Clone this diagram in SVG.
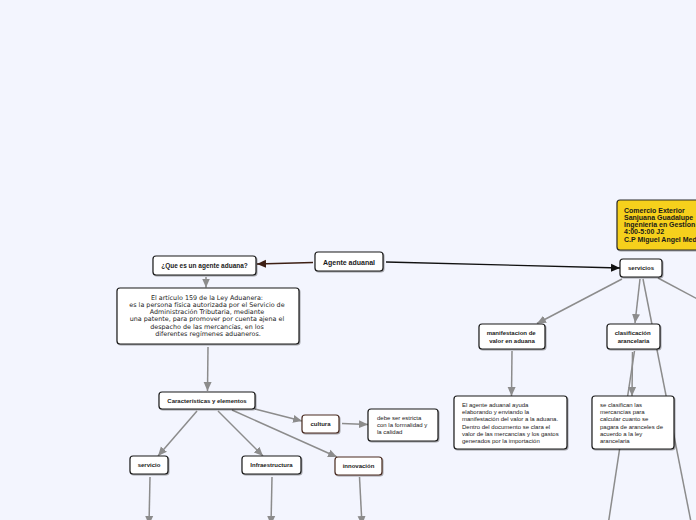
<svg xmlns="http://www.w3.org/2000/svg" width="696" height="520" viewBox="0 0 696 520">
<defs>
<filter id="sh" x="-20%" y="-20%" width="140%" height="150%">
<feDropShadow dx="0.8" dy="1" stdDeviation="0.6" flood-color="#000" flood-opacity="0.35"/>
</filter>
<marker id="ag" markerUnits="userSpaceOnUse" markerWidth="10" markerHeight="10" viewBox="0 0 10 10" refX="9" refY="5" orient="auto">
<path d="M0,1 L9,5 L0,9 Z" fill="#8c8c8c"/>
</marker>
<marker id="ab" markerUnits="userSpaceOnUse" markerWidth="10" markerHeight="10" viewBox="0 0 10 10" refX="9" refY="5" orient="auto">
<path d="M0,1 L9,5 L0,9 Z" fill="#111"/>
</marker>
<marker id="ar" markerUnits="userSpaceOnUse" markerWidth="10" markerHeight="10" viewBox="0 0 10 10" refX="9" refY="5" orient="auto">
<path d="M0,1 L9,5 L0,9 Z" fill="#3d1f14"/>
</marker>
</defs>
<style>
.n{fill:#fff;stroke:#1a1a1a;stroke-width:1.2;filter:url(#sh)}
.nb{fill:#fff;stroke:#4a2c20;stroke-width:1.2;filter:url(#sh)}
.y{fill:#f6d01a;stroke:#2a2a2a;stroke-width:1.2;filter:url(#sh)}
.t{font-family:"Liberation Sans",Arial,sans-serif;font-weight:bold;fill:#1a1a1a}
.b{font-family:"Liberation Sans",Arial,sans-serif;font-size:6px;fill:#222}
.d{font-family:"DejaVu Sans",Verdana,sans-serif;font-size:6.4px;fill:#222}
.g{stroke:#8c8c8c;stroke-width:1.5;fill:none}
</style>
<rect width="696" height="520" fill="#f3f5fe"/>
<g id="connectors">
<line x1="313" y1="262.5" x2="257" y2="264" stroke="#3d1f14" stroke-width="1.6" marker-end="url(#ar)"/>
<line x1="386" y1="262" x2="620" y2="268" stroke="#111" stroke-width="1.3" marker-end="url(#ab)"/>
<line class="g" x1="206" y1="277" x2="206" y2="287.5" marker-end="url(#ag)"/>
<line class="g" x1="208" y1="347" x2="207.5" y2="391" marker-end="url(#ag)"/>
<line class="g" x1="197" y1="411" x2="158" y2="456" marker-end="url(#ag)"/>
<line class="g" x1="218" y1="411" x2="263" y2="456" marker-end="url(#ag)"/>
<line class="g" x1="232" y1="410" x2="337" y2="457" marker-end="url(#ag)"/>
<line class="g" x1="255" y1="409" x2="302" y2="421" marker-end="url(#ag)"/>
<line class="g" x1="342" y1="423.5" x2="368" y2="424.5" marker-end="url(#ag)"/>
<line class="g" x1="150" y1="477" x2="149" y2="525" marker-end="url(#ag)"/>
<line class="g" x1="272" y1="477" x2="271" y2="525" marker-end="url(#ag)"/>
<line class="g" x1="359.5" y1="477" x2="362" y2="525" marker-end="url(#ag)"/>
<line class="g" x1="622" y1="279" x2="537" y2="323.5" marker-end="url(#ag)"/>
<line class="g" x1="640" y1="279" x2="635" y2="323" marker-end="url(#ag)"/>
<line class="g" x1="643" y1="279" x2="693" y2="532"/>
<line class="g" x1="658" y1="278" x2="720" y2="311"/>
<line class="g" x1="512" y1="351" x2="511.5" y2="396" marker-end="url(#ag)"/>
<line class="g" x1="632.5" y1="352" x2="632" y2="396" marker-end="url(#ag)"/>
<line class="g" x1="634.5" y1="351" x2="607" y2="532"/>
</g>
<g id="node-agente">
<rect class="n" x="315" y="252" width="68" height="19" rx="3"/>
<text class="t" x="349" y="264.5" font-size="7" text-anchor="middle">Agente aduanal</text>
</g>
<g id="node-que">
<rect class="n" x="153" y="256" width="103" height="19" rx="3"/>
<text class="t" x="204.5" y="268" font-size="6.5" text-anchor="middle">¿Que es un agente aduana?</text>
</g>
<g id="node-def">
<rect class="n" x="117" y="288" width="182" height="56" rx="3"/>
<text class="d" text-anchor="middle">
<tspan x="208" y="299.5">El artículo 159 de la Ley Aduanera:</tspan>
<tspan x="208" y="306.8">es la persona física autorizada por el Servicio de</tspan>
<tspan x="208" y="314.1">Administración Tributaria, mediante</tspan>
<tspan x="208" y="321.4">una patente, para promover por cuenta ajena el</tspan>
<tspan x="208" y="328.7">despacho de las mercancías, en los</tspan>
<tspan x="208" y="336">diferentes regímenes aduaneros.</tspan>
</text>
</g>
<g id="node-caracteristicas">
<rect class="n" x="159" y="392" width="96" height="17" rx="3"/>
<text class="t" x="207" y="402.5" font-size="6" text-anchor="middle">Características y elementos</text>
</g>
<g id="node-cultura">
<rect class="nb" x="302" y="415" width="37" height="18" rx="3"/>
<text class="t" x="320.5" y="426" font-size="6" text-anchor="middle">cultura</text>
</g>
<g id="node-debe">
<rect class="n" x="368" y="409" width="70" height="32" rx="3"/>
<text class="b">
<tspan x="377" y="420">debe ser estricta</tspan>
<tspan x="377" y="427">con la formalidad y</tspan>
<tspan x="377" y="434">la calidad</tspan>
</text>
</g>
<g id="node-servicio">
<rect class="n" x="130" y="456" width="38" height="18" rx="3"/>
<text class="t" x="149" y="467" font-size="6" text-anchor="middle">servicio</text>
</g>
<g id="node-infra">
<rect class="n" x="242" y="456" width="59" height="18" rx="3"/>
<text class="t" x="271.5" y="467" font-size="6" text-anchor="middle">Infraestructura</text>
</g>
<g id="node-innovacion">
<rect class="nb" x="335" y="457" width="47" height="18" rx="3"/>
<text class="t" x="358.5" y="468" font-size="6" text-anchor="middle">innovación</text>
</g>
<g id="node-info">
<rect class="y" x="617" y="200" width="120" height="50" rx="3"/>
<text class="t" font-size="7">
<tspan x="624" y="212.5">Comercio Exterior</tspan>
<tspan x="624" y="219.8">Sanjuana Guadalupe</tspan>
<tspan x="624" y="227">Ingenieria en Gestion</tspan>
<tspan x="624" y="234.3">4:00-5:00 J2</tspan>
<tspan x="624" y="241.6">C.P Miguel Angel Medina</tspan>
</text>
</g>
<g id="node-servicios">
<rect class="n" x="620" y="259" width="42" height="18" rx="3"/>
<text class="t" x="641" y="270" font-size="6" text-anchor="middle">servicios</text>
</g>
<g id="node-manifestacion">
<rect class="n" x="479" y="324" width="66" height="25" rx="3"/>
<text class="t" font-size="6" text-anchor="middle">
<tspan x="512" y="335">manifestacion de</tspan>
<tspan x="512" y="343">valor en aduana</tspan>
</text>
</g>
<g id="node-clasificacion">
<rect class="n" x="607" y="324" width="53" height="25" rx="3"/>
<text class="t" font-size="6" text-anchor="middle">
<tspan x="633.5" y="335">clasificación</tspan>
<tspan x="633.5" y="343">arancelaria</tspan>
</text>
</g>
<g id="node-elagente">
<rect class="n" x="454" y="396" width="113" height="53" rx="3"/>
<text class="b">
<tspan x="462" y="407">El agente aduanal ayuda</tspan>
<tspan x="462" y="414.2">elaborando y enviando la</tspan>
<tspan x="462" y="421.4">manifestación del valor a la aduana.</tspan>
<tspan x="462" y="428.6">Dentro del documento se clara el</tspan>
<tspan x="462" y="435.8">valor de las mercancías y los gastos</tspan>
<tspan x="462" y="443">generados por la importación</tspan>
</text>
</g>
<g id="node-seclasifican">
<rect class="n" x="592" y="396" width="82" height="53" rx="3"/>
<text class="b">
<tspan x="600" y="407">se clasifican las</tspan>
<tspan x="600" y="414.2">mercancías para</tspan>
<tspan x="600" y="421.4">calcular cuanto se</tspan>
<tspan x="600" y="428.6">pagara de aranceles de</tspan>
<tspan x="600" y="435.8">acuerdo a la ley</tspan>
<tspan x="600" y="443">arancelaria</tspan>
</text>
</g>
</svg>
